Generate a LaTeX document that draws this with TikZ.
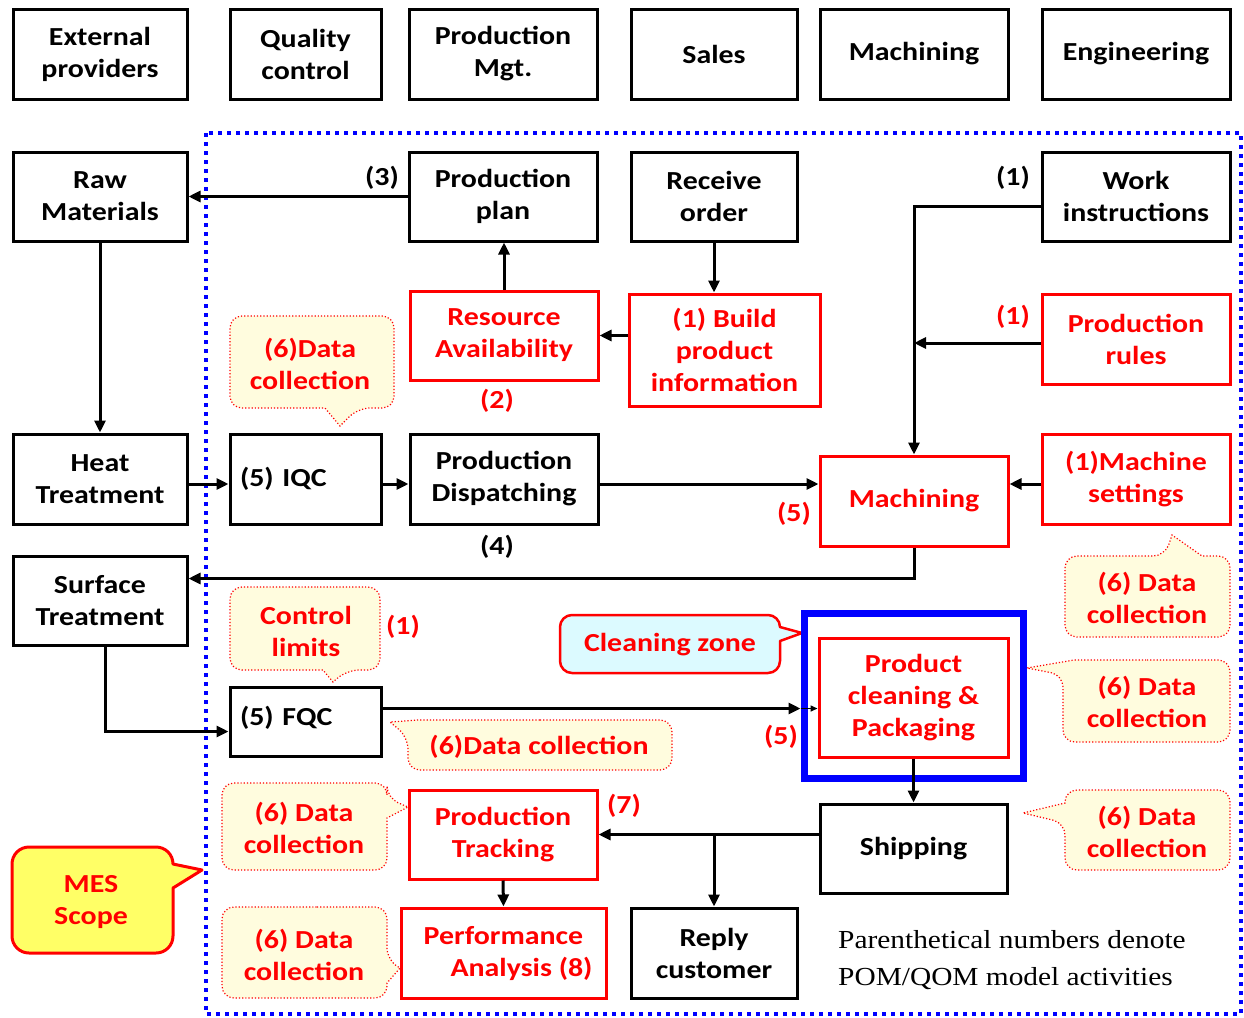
\documentclass[tikz,border=0pt]{standalone}
\usepackage{fontspec}
\setmainfont{Carlito}[FakeStretch=1.15]
\newfontfamily\notefont{Liberation Serif}[FakeStretch=1.13]
\usetikzlibrary{arrows.meta}
\definecolor{mred}{RGB}{255,0,0}
\definecolor{notefill}{RGB}{255,252,222}
\definecolor{zonefill}{RGB}{220,250,255}
\definecolor{mesfill}{RGB}{255,255,102}
\definecolor{scopeblue}{RGB}{0,0,255}

\begin{document}
\begin{tikzpicture}[x=1pt,y=-1pt,
  lbl/.style={font=\bfseries\fontsize{26}{32}\selectfont, inner sep=0pt},
  box/.style={draw, line width=3pt, align=center, lbl, outer sep=1.5pt},
  rbox/.style={box, draw=mred, text=mred},
  wh/.style 2 args={minimum width=#1pt, minimum height=#2pt},
  conn/.style={line width=3pt, -{Triangle[length=12pt,width=11pt]}},
  note/.style={draw=mred, dotted, line width=1.2pt, fill=notefill},
  notetext/.style={lbl, text=mred, align=center},
  rnum/.style={lbl, text=mred},
  bnum/.style={lbl},
]
\fill[white] (0,0) rectangle (1244,1017);
\useasboundingbox (0,0) rectangle (1244,1017);

% MES scope boundary
\draw[scopeblue, line width=4pt, dash pattern=on 4pt off 5pt] (206,133) rectangle (1241,1014);

% ---- callouts ----
\draw[note] (312,316) [rounded corners=12pt] -- (394,316) -- (394,408) -- (358,408) [sharp corners] -- (340,426) -- (325,408) [rounded corners=12pt] -- (230,408) -- (230,316) -- cycle;
\node[notetext] (dc1) at (310,364) {(6)Data\\collection};

\draw[note] (1065,596) [rounded corners=12pt] -- (1065,556) -- (1165,556) [sharp corners] -- (1172,535) -- (1202,556) [rounded corners=12pt] -- (1230,556) -- (1230,637) -- (1065,637) -- cycle;
\node[notetext] (dc2) at (1147,598) {(6) Data\\collection};

\draw[note] (1147,660) [rounded corners=12pt] -- (1230,660) -- (1230,742) -- (1063,742) -- (1063,675) [sharp corners] -- (1027,668) -- (1074,660) -- cycle;
\node[notetext] (dc3) at (1147,702) {(6) Data\\collection};

\draw[note] (1147,790) [rounded corners=12pt] -- (1230,790) -- (1230,870) -- (1065,870) -- (1065,823) [sharp corners] -- (1023,813) -- (1065,803) [rounded corners=12pt] -- (1065,790) -- cycle;
\node[notetext] (dc4) at (1147,832) {(6) Data\\collection};

\draw[note] (305,587) [rounded corners=12pt] -- (380,587) -- (380,670) -- (347,670) [sharp corners] -- (333,682) -- (323,670) [rounded corners=12pt] -- (230,670) -- (230,587) -- cycle;
\node[notetext] (cl) at (306,631) {Control\\limits};

\draw[note] (540,720) [rounded corners=12pt] -- (672,720) -- (672,770) -- (408,770) -- (408,737) [sharp corners] -- (390,722) -- (418,720) -- cycle;
\node[notetext] (dc5) at (539,747) {(6)Data collection};

\draw[note] (305,783) [rounded corners=12pt] -- (387,783) -- (387,798) [sharp corners] -- (408,807) -- (387,818) [rounded corners=12pt] -- (387,870) -- (222,870) -- (222,783) -- cycle;
\node[notetext] (dc6) at (304,828) {(6) Data\\collection};

\draw[note] (305,907) [rounded corners=12pt] -- (387,907) -- (387,960) [sharp corners] -- (400,968) -- (387,983) [rounded corners=12pt] -- (387,998) -- (222,998) -- (222,907) -- cycle;
\node[notetext] (dc7) at (304,955) {(6) Data\\collection};

% MES scope balloon, corners built from arcs
\draw[draw=mred, line width=3pt, fill=mesfill, line join=round]
  (29,847) -- (156,847) arc[start angle=-90, end angle=0, radius=17]
  -- (202,870) -- (173,888) -- (173,936) arc[start angle=0, end angle=90, radius=17]
  -- (29,953) arc[start angle=90, end angle=180, radius=17]
  -- (12,864) arc[start angle=180, end angle=270, radius=17] -- cycle;
\node[notetext] (mes) at (91,902) {MES\\Scope};

% cleaning zone balloon
\draw[draw=mred, line width=2.5pt, fill=zonefill, line join=round]
  (572,615) -- (768,615) arc[start angle=-90, end angle=0, radius=12]
  -- (802,633) -- (780,641) -- (780,661) arc[start angle=0, end angle=90, radius=12]
  -- (572,673) arc[start angle=90, end angle=180, radius=12]
  -- (560,627) arc[start angle=180, end angle=270, radius=12] -- cycle;
\node[notetext] (cz) at (670,645) {Cleaning zone};

% ---- departments ----
\node[box, wh={174}{90}] (ext)   at (100,54)   {External\\providers};
\node[box, wh={151}{90}] (qc)    at (305.5,54) {Quality\\control};
\node[box, wh={188}{90}] (pmgt)  at (503,54)   {Production\\Mgt.};
\node[box, wh={166}{90}] (sales) at (714,54)   {Sales};
\node[box, wh={188}{90}] (mdep)  at (914,54)   {Machining};
\node[box, wh={188}{90}] (eng)   at (1136,54)  {Engineering};

% ---- process ----
\node[box, wh={174}{89}] (raw)  at (100,196.5)  {Raw\\Materials};
\node[box, wh={188}{89}] (plan) at (503,196.5)  {Production\\plan};
\node[box, wh={166}{89}] (recv) at (714,196.5)  {Receive\\order};
\node[box, wh={188}{89}] (work) at (1136,196.5) {Work\\instructions};

\node[rbox, wh={188}{89}]  (res)   at (504,335.5) {Resource\\Availability};
\node[rbox, wh={191}{112}] (build) at (724.5,350) {(1) Build\\product\\information};
\node[rbox, wh={188}{90}]  (rules) at (1136,339)  {Production\\rules};

\node[box, wh={174}{90}] (heat) at (100,479)   {Heat\\Treatment};
\node[box, wh={151}{90}, text width=131pt, align=left] (iqc) at (305.5,479) {(5) IQC};
\node[box, wh={188}{90}] (disp) at (504,479)   {Production\\Dispatching};
\node[rbox, wh={188}{90}] (mach) at (914,501)  {Machining};
\node[rbox, wh={188}{90}] (mset) at (1136,479) {(1)Machine\\settings};

\node[box, wh={174}{89}] (surf) at (100,600.5) {Surface\\Treatment};
\node[box, wh={151}{69}, text width=131pt, align=left] (fqc) at (305.5,721.5) {(5) FQC\\[-21pt]\mbox{}};

\node[draw=scopeblue, line width=7pt, wh={219}{165}, inner sep=0pt, outer sep=3.5pt] (zone) at (913.5,695.5) {};
\node[rbox, wh={189}{119}] (pack) at (913.5,697.5) {Product\\cleaning \&\\Packaging};

\node[rbox, wh={188}{89}] (track) at (503,834.5)  {Production\\Tracking};
\node[box, wh={187}{89}]  (ship)  at (913.5,848.5) {Shipping};
\node[rbox, wh={205}{90}] (perf)  at (503.5,953)  {Performance\\\hspace*{36pt}Analysis (8)};
\node[box, wh={166}{90}]  (reply) at (714,953)    {Reply\\customer};

% ---- activity numbers ----
\node[bnum] (n3)  at (382,178) {(3)};
\node[bnum] (n1a) at (1013,178) {(1)};
\node[rnum] (n1b) at (1013,317) {(1)};
\node[rnum] (n2)  at (497,401) {(2)};
\node[bnum] (n4)  at (497,547) {(4)};
\node[rnum] (n5a) at (794,514) {(5)};
\node[rnum] (n1c) at (403,627) {(1)};
\node[rnum] (n5b) at (781,737) {(5)};
\node[rnum] (n7)  at (624,806) {(7)};

% ---- connectors ----
\draw[conn] (plan.west) -- (raw.east);
\draw[conn] (res.north) -- (res.north |- plan.south);
\draw[conn] (recv.south) -- (recv.south |- build.north);
\draw[conn] (build.west |- res.east) -- (res.east);
\draw[conn] (raw.south) -- (heat.north);
\draw[conn] ([yshift=-5pt]heat.east) -- ([yshift=-5pt]iqc.west);
\draw[conn] ([yshift=-5pt]iqc.east) -- ([yshift=-5pt]disp.west);
\draw[conn] ([yshift=-5pt]disp.east) -- ([yshift=-5pt]disp.east -| mach.west);
\draw[conn] ([yshift=-10pt]work.west) -| (mach.north);
\draw[conn] ([yshift=-4pt]rules.west) -- ([yshift=-4pt]rules.west -| mach.north);
\draw[conn] ([yshift=-5pt]mset.west) -- ([yshift=-5pt]mset.west -| mach.east);
\draw[conn] (mach.south) |- ([yshift=22pt]surf.east);
\draw[conn] ([xshift=5pt]surf.south) |- ([yshift=-10pt]fqc.west);
\draw[conn] ([yshift=13pt]fqc.east) -- ([yshift=13pt]fqc.east -| zone.west);
\draw[line width=1.5pt, -{Triangle[length=7pt,width=6pt]}] ([yshift=13pt]fqc.east -| zone.west) -- ([yshift=13pt]fqc.east -| pack.west);
\draw[conn] (pack.south) -- (ship.north);
\draw[conn] (ship.west |- track.east) -- (track.east);
\draw[conn] (reply.north |- track.east) -- (reply.north);
\draw[conn] (track.south) -- (perf.north);

% ---- legend ----
\node[anchor=west, align=left, inner sep=0pt, font=\notefont\fontsize{26}{37}\selectfont] (legend) at (838,960)
  {Parenthetical numbers denote\\POM/QOM model activities};
\end{tikzpicture}
\end{document}
